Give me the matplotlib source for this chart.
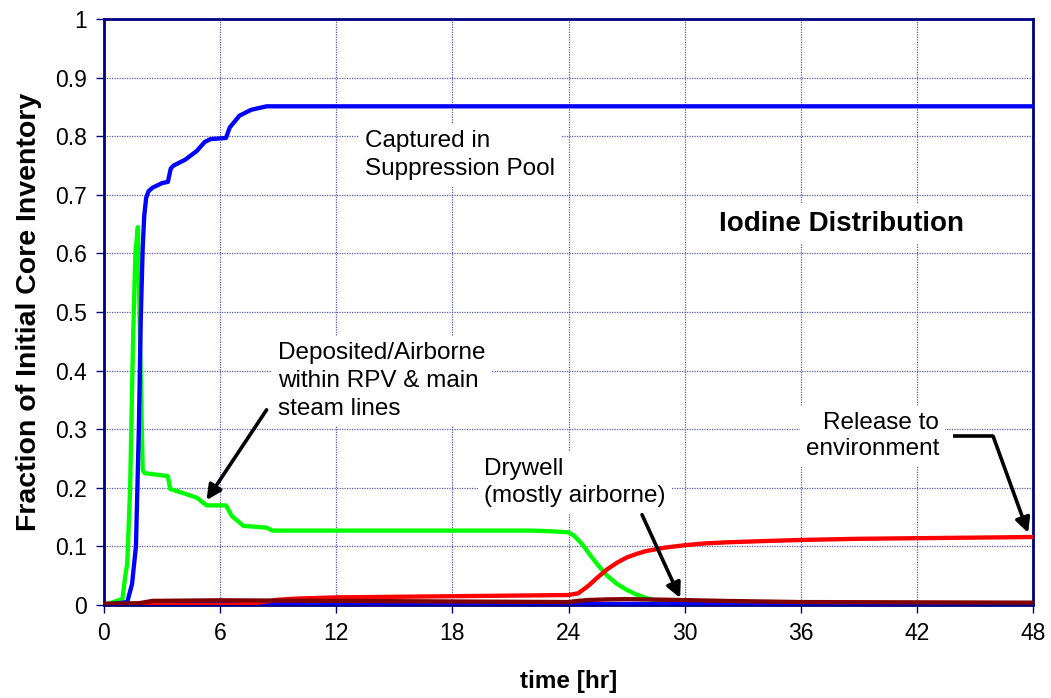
import matplotlib
matplotlib.use("Agg")
import matplotlib.pyplot as plt

plt.rcParams['font.family'] = ['Liberation Sans', 'DejaVu Sans']

# ---- data ----
x_ticks = [0, 6, 12, 18, 24, 30, 36, 42, 48]
y_ticks = [0, 0.1, 0.2, 0.3, 0.4, 0.5, 0.6, 0.7, 0.8, 0.9, 1]
y_tick_labels = ["0", "0.1", "0.2", "0.3", "0.4", "0.5", "0.6", "0.7", "0.8", "0.9", "1"]

pool_t = [0, 1.2, 1.45, 1.65, 1.8, 1.9, 2.0, 2.08, 2.18, 2.3, 2.5, 3.0, 3.3, 3.45, 3.6,
          4.2, 4.8, 5.2, 5.5, 6.3, 6.5, 7.0, 7.6, 8.4, 48]
pool_v = [0, 0.005, 0.036, 0.1, 0.3, 0.49, 0.61, 0.665, 0.695, 0.706, 0.712, 0.72, 0.722,
          0.745, 0.75, 0.76, 0.775, 0.79, 0.795, 0.797, 0.815, 0.835, 0.845, 0.851, 0.851]

rpv_t = [0, 0.95, 1.1, 1.2, 1.35, 1.5, 1.62, 1.75, 1.88, 2.0, 2.1, 3.3, 3.42, 4.0,
         4.8, 5.3, 6.3, 6.6, 7.2, 8.4, 8.7, 22, 23, 24, 24.3, 24.7, 25.1, 25.5, 26.0,
         26.5, 27.0, 27.5, 28.0, 28.5, 29.0, 30.0, 31.0, 33.0, 48]
rpv_v = [0, 0.01, 0.05, 0.07, 0.2, 0.45, 0.6, 0.645, 0.42, 0.23, 0.225, 0.22, 0.198, 0.192,
         0.183, 0.17, 0.17, 0.152, 0.135, 0.132, 0.127, 0.127, 0.126, 0.124, 0.118, 0.104,
         0.086, 0.069, 0.05, 0.036, 0.026, 0.018, 0.012, 0.008, 0.005, 0.003, 0.001, 0.0, 0.0]

env_t = [0, 6, 7, 8, 9, 10, 12, 18, 24, 24.5, 25.0, 25.5, 26.0, 26.5, 27.0, 27.5, 28.0,
         28.5, 29.0, 30.0, 31.0, 32.2, 34, 36, 39, 42, 45, 48]
env_v = [0, 0, 0.001, 0.004, 0.009, 0.011, 0.013, 0.015, 0.017, 0.02, 0.032, 0.047, 0.061,
         0.072, 0.081, 0.087, 0.092, 0.095, 0.098, 0.102, 0.105, 0.107, 0.109, 0.111, 0.113,
         0.114, 0.115, 0.116]

dw_t = [0, 1.8, 2.5, 6, 12, 18, 24, 24.5, 25, 26, 27, 29, 32, 36, 48]
dw_v = [0.002, 0.003, 0.007, 0.008, 0.007, 0.006, 0.005, 0.007, 0.0085, 0.0095, 0.010,
        0.009, 0.007, 0.005, 0.004]

ww_t = [0, 48]
ww_v = [0.001, 0.001]

# ---- figure ----
fig = plt.figure(figsize=(10.51, 6.98), dpi=100)
ax = fig.add_axes([104/1051, 1 - 605/698, (1033 - 104)/1051, (605 - 19)/698])

lw = 3.1
ax.plot(rpv_t, rpv_v, color='#00FF00', lw=lw, zorder=3, solid_joinstyle='round')
ax.plot(pool_t, pool_v, color='#0000FF', lw=lw, zorder=4, solid_joinstyle='round')
ax.plot(ww_t, ww_v, color='#0000FF', lw=lw, zorder=4)
ax.plot(env_t, env_v, color='#FF0000', lw=lw, zorder=5, solid_joinstyle='round')
ax.plot(dw_t, dw_v, color='#800000', lw=lw, zorder=6, solid_joinstyle='round')

ax.set_xlim(0, 48)
ax.set_ylim(0, 1)
ax.set_xticks(x_ticks)
ax.set_xticklabels([str(v) for v in x_ticks])
ax.set_yticks(y_ticks)
ax.set_yticklabels(y_tick_labels)

navy = '#000080'
for s in ax.spines.values():
    s.set_color(navy)
    s.set_linewidth(2.0)
ax.tick_params(axis='both', direction='out', length=6, width=1, color=navy,
               labelsize=16.5, pad=6)
ax.grid(True, color='#5a5ab4', linestyle=(0, (1, 1)), linewidth=0.9, zorder=0)
ax.set_axisbelow(True)

ax.set_xlabel('time [hr]', fontsize=17.5, fontweight='bold', labelpad=18)
ax.set_ylabel('Fraction of Initial Core Inventory', fontsize=20.5, fontweight='bold', labelpad=10)

box = dict(boxstyle='square,pad=0.25', fc='white', ec='none')
tsize = 17.5
ls = 1.34

ax.text(13.49, 0.768, 'Captured in\nSuppression Pool', fontsize=tsize, ha='left', va='center',
        linespacing=ls, bbox=box, zorder=7)
ax.text(31.78, 0.650, 'Iodine Distribution', fontsize=20, fontweight='bold', ha='left',
        va='center', bbox=box, zorder=7)
ax.text(8.99, 0.382, 'Deposited/Airborne\nwithin RPV & main\nsteam lines', fontsize=tsize,
        ha='left', va='center', linespacing=ls, bbox=box, zorder=7)
ax.text(19.64, 0.209, 'Drywell\n(mostly airborne)', fontsize=tsize, ha='left', va='center',
        linespacing=1.25, bbox=box, zorder=7)
ax.text(43.15, 0.288, 'Release to\nenvironment', fontsize=tsize, ha='right', va='center',
        multialignment='right', linespacing=1.25, bbox=box, zorder=7)

arrow = dict(arrowstyle='-|>', lw=2.6, color='black', mutation_scale=22, shrinkA=0, shrinkB=0)
ax.annotate('', xy=(5.30, 0.179), xytext=(8.40, 0.333), arrowprops=arrow, zorder=8)
ax.annotate('', xy=(29.77, 0.012), xytext=(27.8, 0.154), arrowprops=arrow, zorder=8)
ax.plot([43.88, 45.94], [0.288, 0.288], color='black', lw=2.6, zorder=8,
        solid_capstyle='butt')
ax.annotate('', xy=(47.75, 0.123), xytext=(45.94, 0.288), arrowprops=arrow, zorder=8)

fig.savefig('out.png', dpi=100)
